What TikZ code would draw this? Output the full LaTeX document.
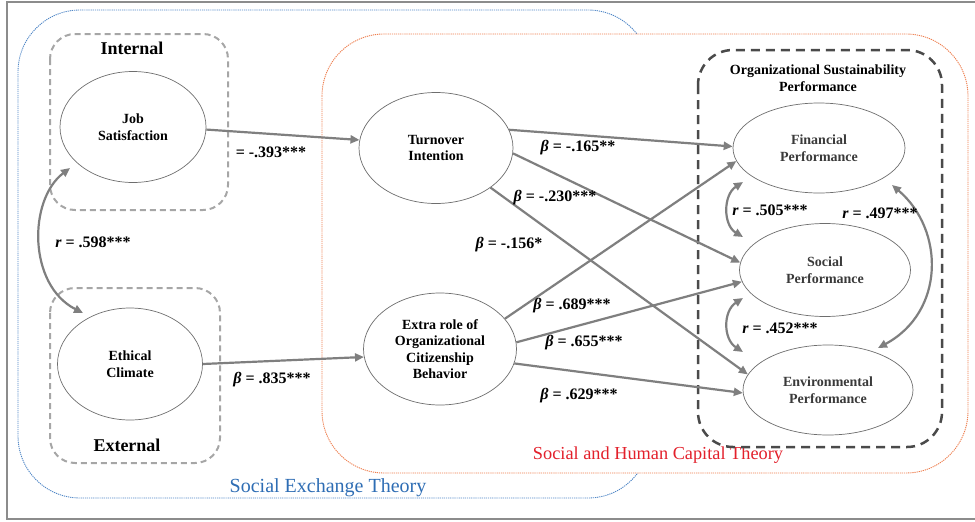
\documentclass[tikz,border=0pt]{standalone}
\usepackage{fontspec}
\setmainfont{Liberation Serif}
\usetikzlibrary{shapes.geometric,arrows.meta,calc}

\definecolor{framegray}{HTML}{8C8C8C}
\definecolor{arrgray}{HTML}{7F7F7F}
\definecolor{ellgray}{HTML}{6E6E6E}
\definecolor{boxgray}{HTML}{A6A6A6}
\definecolor{darkdash}{HTML}{4A4A4A}
\definecolor{setblue}{HTML}{2E6DB4}
\definecolor{setline}{HTML}{4F86C6}
\definecolor{shcred}{HTML}{E3202B}
\definecolor{shcline}{HTML}{EE7E4E}
\definecolor{perftext}{HTML}{3A3A3A}

\newcommand\ndfont{\fontsize{14}{16.5}\selectfont\bfseries}
\newcommand\cffont{\fontsize{16}{19}\selectfont\bfseries}
\newcommand\grpfont{\fontsize{18}{21}\selectfont\bfseries}
\newcommand\thfont{\fontsize{20}{24}\selectfont}
\newcommand\thfontb{\fontsize{18.3}{22}\selectfont}

\tikzset{
  latent/.style={ellipse, draw=ellgray, line width=0.7pt, inner sep=0pt,
    align=center, font=\ndfont},
  perf/.style={latent, text=perftext},
  effect/.style={draw=arrgray, line width=2.2pt,
    -{Triangle[length=9pt,width=8pt]}},
  corr/.style={draw=arrgray, line width=2.2pt,
    {Triangle[length=9pt,width=8pt]}-{Triangle[length=9pt,width=8pt]}},
  coef/.style={font=\cffont, inner sep=0pt},
  group/.style={draw=boxgray, line width=2pt, dash pattern=on 6pt off 4pt,
    rounded corners=25pt},
  outcome/.style={draw=darkdash, line width=2.5pt, dash pattern=on 9pt off 6pt,
    rounded corners=35pt},
  theory/.style={line width=0.9pt, dash pattern=on 1.2pt off 0.9pt,
    rounded corners=62pt}
}

\begin{document}
\begin{tikzpicture}[x=1pt, y=-1pt]
\useasboundingbox (0,0) rectangle (975,522);

% outer frame
\draw[framegray, line width=1.5pt] (976,2) -- (7,2) -- (7,519) -- (976,519);

% theory regions
\draw[theory, setline] (18,10) rectangle (650,498);
\draw[theory, shcline, fill=white] (322,34) rectangle (968,473);
\node[font=\thfont, text=setblue] (setlbl) at (328,488) {Social Exchange Theory};
\node[font=\thfontb, text=shcred] (shclbl) at (658,455) {Social and Human Capital Theory};

% antecedent groups
\draw[group] (50,34) rectangle (228,210);
\draw[group] (50,288) rectangle (220,463);
\node[font=\grpfont] (intlbl) at (132,48) {Internal};
\node[font=\grpfont] (extlbl) at (127,445) {External};

% sustainability performance block
\draw[outcome] (698,50) rectangle (942,447);
\node[font=\ndfont, align=center] (osplbl) at (818,78)
  {Organizational Sustainability\\Performance};

% constructs
\node[latent, minimum width=146pt, minimum height=111pt] (js) at (133,127) {Job\\Satisfaction};
\node[latent, minimum width=145pt, minimum height=112pt] (ec) at (130,364) {Ethical\\Climate};
\node[latent, minimum width=154pt, minimum height=111pt] (ti) at (436,148) {Turnover\\Intention};
\node[latent, minimum width=153pt, minimum height=112pt] (ocb) at (440,349)
  {Extra role of\\Organizational\\Citizenship\\Behavior};
\node[perf, minimum width=172pt, minimum height=90pt] (fp) at (819,148) {Financial\\Performance};
\node[perf, minimum width=171pt, minimum height=93pt] (sp) at (825,270) {Social\\Performance};
\node[perf, minimum width=170pt, minimum height=90pt] (ep) at (828,390) {Environmental\\Performance};

% structural paths
\draw[effect] (js.-2) -- (ti.174);
\draw[effect] (ec.0) -- (ocb.186);
\draw[effect] (ti.14) -- (fp.179);
\draw[effect] (ti.-4) -- (sp.175);
\draw[effect] (ti.-36.5) -- (ep.169.5);
\draw[effect] (ocb.25) -- (fp.189.5);
\draw[effect] (ocb.5) -- (sp.188);
\draw[effect] (ocb.-11) -- (ep.182);

% correlations
\draw[corr] ($(js)+(-63,41)$) .. controls (28,200) and (28,285) .. ($(ec)+(-47,-51)$);
\draw[corr] ($(fp)+(-76,34)$) .. controls (723,195) and (723,225) .. ($(sp)+(-82,-33)$);
\draw[corr] ($(sp)+(-82,28)$) .. controls (723,311) and (723,339) .. ($(ep)+(-85,-38)$);
\draw[corr] ($(fp)+(73,37)$) .. controls (945,230) and (945,312) .. ($(ep)+(50,-42)$);

% coefficients
\node[coef] (c1) at (271,152) {= -.393***};
\node[coef] (c2) at (272,380) {\textit{β} = .835***};
\node[coef] (c3) at (578,148) {\textit{β} = -.165**};
\node[coef] (c4) at (555,198) {\textit{β} = -.230***};
\node[coef] (c5) at (509,245) {\textit{β} = -.156*};
\node[coef] (c6) at (572,306) {\textit{β} = .689***};
\node[coef] (c7) at (584,343) {\textit{β} = .655***};
\node[coef] (c8) at (579,396) {\textit{β} = .629***};
\node[coef] (r1) at (93,242) {\textit{r} = .598***};
\node[coef] (r2) at (770,210) {\textit{r} = .505***};
\node[coef] (r3) at (780,328) {\textit{r} = .452***};
\node[coef] (r4) at (880,213) {\textit{r} = .497***};
\end{tikzpicture}
\end{document}
